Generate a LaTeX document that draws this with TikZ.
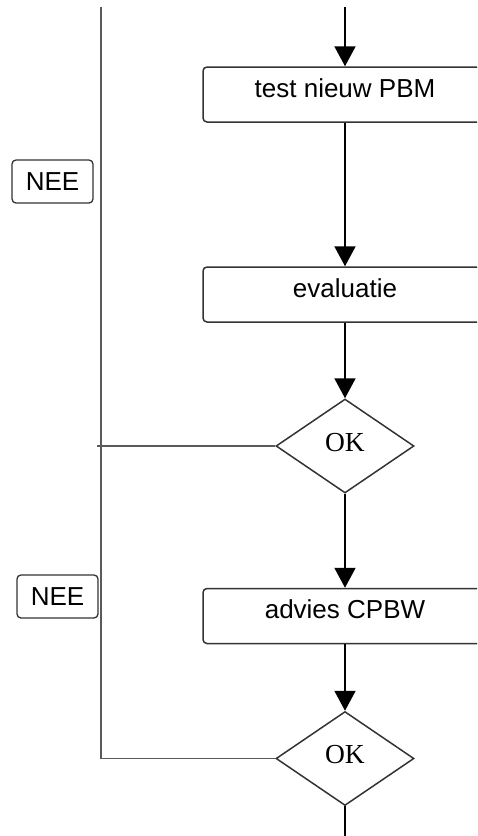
\documentclass[tikz,border=0pt]{standalone}
\usepackage{fontspec}
\setmainfont{Liberation Sans}
\newfontfamily\okfont{Liberation Serif}
\usepackage{tikz}
\usetikzlibrary{arrows.meta,positioning,shapes.geometric}
\definecolor{rand}{HTML}{333333}
\definecolor{lijn}{HTML}{5a5a5a}

\begin{document}
\begin{tikzpicture}[x=1pt, y=-1pt,
  stap/.style={rectangle, rounded corners=4pt, draw=rand, line width=1.5pt,
    minimum width=284pt, inner xsep=0pt, inner ysep=12pt,
    text height=18pt, text depth=13pt, font=\fontsize{26}{30}\selectfont},
  keuze/.style={diamond, draw=rand, line width=1.5pt, inner sep=0pt,
    minimum width=138pt, minimum height=94pt,
    text height=19pt, text depth=9pt, font=\okfont\fontsize{27.5}{32}\selectfont},
  nee/.style={rectangle, rounded corners=4pt, draw=rand, line width=1.3pt,
    minimum width=81pt, minimum height=43pt, inner sep=0pt,
    font=\fontsize{26}{30}\selectfont},
  pijl/.style={-{Triangle[width=21pt,length=20pt]}, line width=2pt, black},
  dun/.style={line width=1.3pt, lijn}]
\useasboundingbox (0,0) rectangle (477,836);
\clip (0,0) rectangle (477,836);

\coordinate (begin) at (345,7);
\coordinate (links) at (101,7);
\coordinate (eind) at (345,836);
\coordinate (terug) at (97,444);

\node[stap] (test) at (345,94.5) {test nieuw PBM};
\node[stap] (evaluatie) at (345,294.5) {evaluatie};
\node[keuze] (ok1) at (345,446) {OK};
\node[stap] (advies) at (345,616) {advies CPBW};
\node[keuze] (ok2) at (345,758.5) {OK};

\node[nee] (nee1) at (52.5,181.5) {NEE};
\node[nee] (nee2) at (57.5,596.5) {NEE};

\draw[pijl] (begin) -- (test);
\draw[pijl] (test) -- (evaluatie);
\draw[pijl] (evaluatie) -- (ok1);
\draw[pijl] (ok1) -- (advies);
\draw[pijl] (advies) -- (ok2);
\draw[line width=2pt] (ok2.south) -- (eind);

% terugkoppeling
\draw[dun] (links) |- (ok2.west);
\draw[dun] (ok1.west) -- (ok1.west -| terug);
\end{tikzpicture}
\end{document}
